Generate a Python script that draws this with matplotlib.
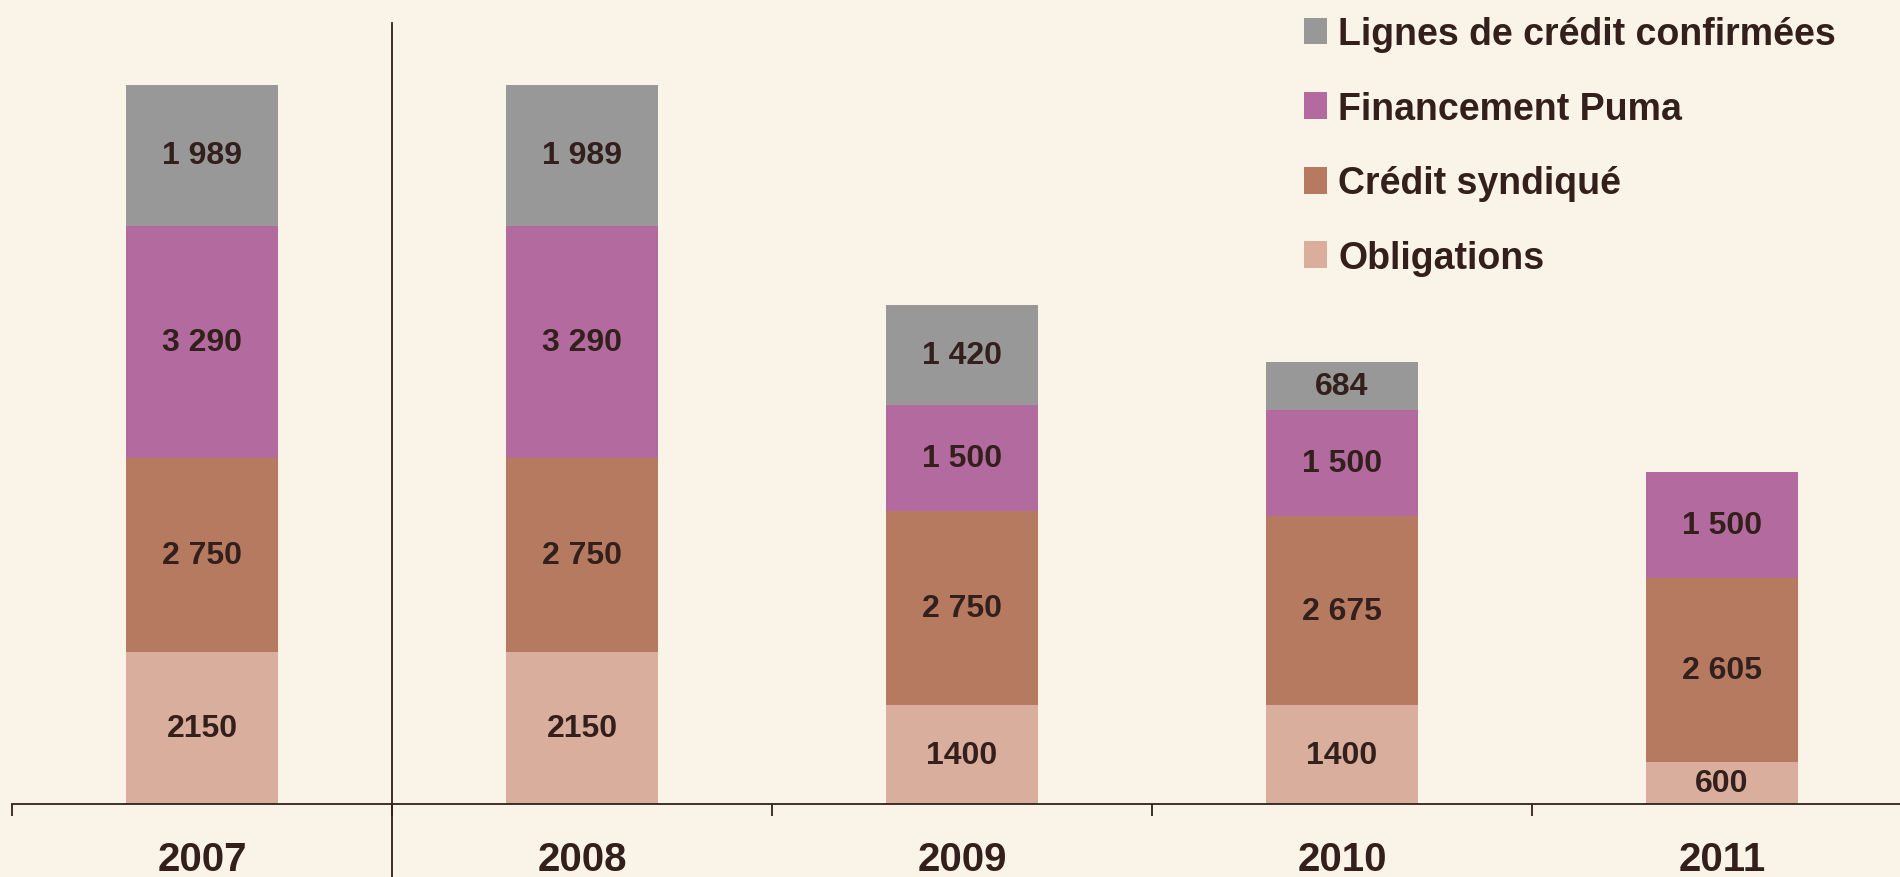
import numpy as np
import matplotlib as mpl
import matplotlib.pyplot as plt
from matplotlib.patches import Patch

# ----------------------------
# Data (millions d'euros)
# ----------------------------
years = ["2007", "2008", "2009", "2010", "2011"]
series_names = ["Obligations", "Crédit syndiqué", "Financement Puma",
                "Lignes de crédit confirmées"]
obligations = [2150, 2150, 1400, 1400, 600]
credit_synd = [2750, 2750, 2750, 2675, 2605]
puma = [3290, 3290, 1500, 1500, 1500]
lignes = [1989, 1989, 1420, 684, 0]

lbl_obligations = ["2150", "2150", "1400", "1400", "600"]
lbl_credit_synd = ["2 750", "2 750", "2 750", "2 675", "2 605"]
lbl_puma = ["3 290", "3 290", "1 500", "1 500", "1 500"]
lbl_lignes = ["1 989", "1 989", "1 420", "684", ""]

colors = ["#DAAE9C", "#B67A60", "#B36A9E", "#989898"]
bg = "#FAF3E8"
txt = "#33201C"

mpl.rcParams.update({
    "font.family": ["Liberation Sans Narrow", "Liberation Sans", "DejaVu Sans"],
    "font.weight": "bold",
})

# ----------------------------
# Figure
# ----------------------------
W, H = 1900, 878
fig = plt.figure(figsize=(W / 100, H / 100), dpi=100, facecolor=bg)
ax = fig.add_axes([12 / W, 73 / H, (W - 12) / W, 805 / H])
ax.set_facecolor(bg)

x = np.arange(len(years))
stack = [obligations, credit_synd, puma, lignes]
labels = [lbl_obligations, lbl_credit_synd, lbl_puma, lbl_lignes]

bottom = np.zeros(len(years))
for vals, lbls, c in zip(stack, labels, colors):
    vals = np.array(vals, dtype=float)
    ax.bar(x, vals, width=0.4, bottom=bottom, color=c, linewidth=0)
    for xi, b, v, s in zip(x, bottom, vals, lbls):
        if v > 0 and s:
            ax.text(xi, b + v / 2, s, ha="center", va="center",
                    fontsize=23, fontweight="bold", color=txt)
    bottom += vals

ax.set_xlim(-0.5, -0.5 + (W - 12) / 380)
ax.set_ylim(0, 11400)

for s in ["left", "right", "top"]:
    ax.spines[s].set_visible(False)
ax.spines["bottom"].set_color(txt)
ax.spines["bottom"].set_linewidth(1.3)

ax.set_yticks([])
ax.set_xticks(x)
ax.set_xticklabels(years, fontsize=29, fontweight="bold", color=txt)
ax.tick_params(axis="x", which="major", length=0, pad=26)
ax.set_xticks(np.arange(-0.5, 4.0, 1.0), minor=True)
ax.tick_params(axis="x", which="minor", length=8.6, width=1.3, color=txt,
               direction="out")

# separator between 2007 and 2008
ax.axvline(0.5, ymin=-73 / 805, ymax=(805 - 24) / 805, color=txt,
           linewidth=1.3, clip_on=False)

# legend (top series first)
handles = [Patch(facecolor=c, edgecolor="none") for c in colors][::-1]
fig.legend(handles, series_names[::-1], loc="upper left",
           bbox_to_anchor=(1304 / W, 1 - 17 / H), frameon=False,
           prop={"weight": "bold", "size": 27},
           labelcolor=txt, borderpad=0, borderaxespad=0,
           handlelength=0.62, handleheight=0.72, handletextpad=0.3,
           labelspacing=1.03)

fig.savefig("out.png", dpi=100, facecolor=bg)
